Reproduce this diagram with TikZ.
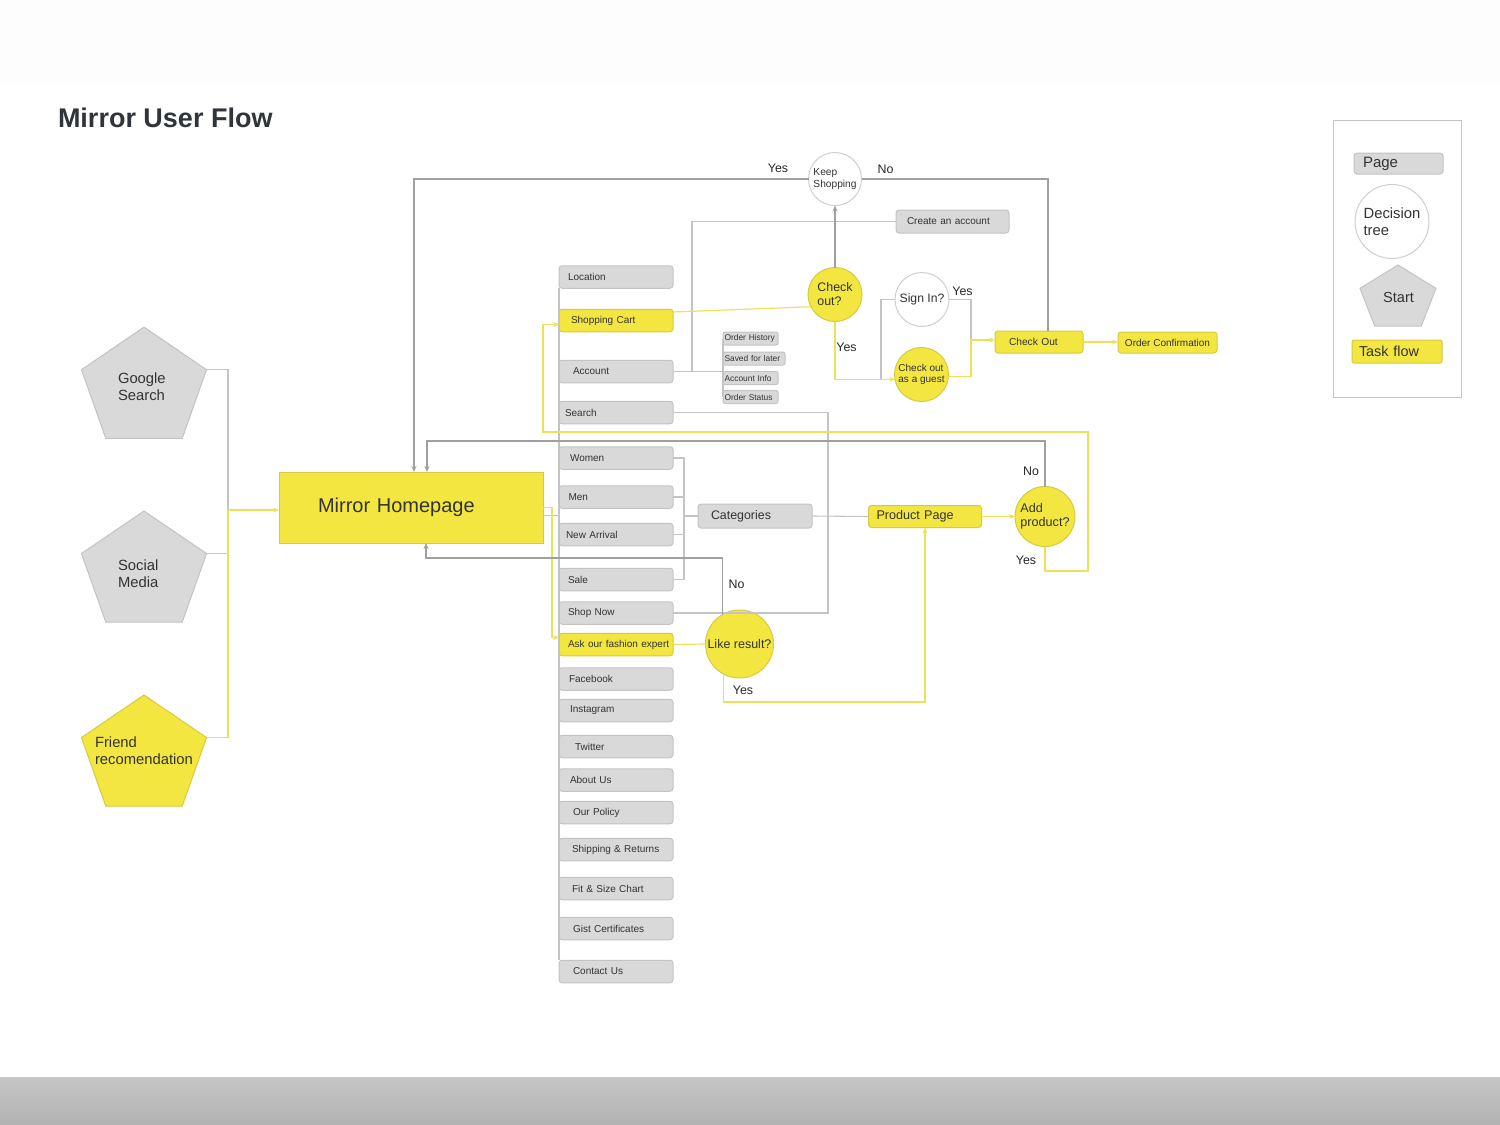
\documentclass[tikz,border=0pt]{standalone}
\usepackage{fontspec}
\setmainfont{Liberation Sans}
\usetikzlibrary{calc,arrows.meta}
\definecolor{yfill}{HTML}{F3E641}
\definecolor{ydraw}{HTML}{D6CA3E}
\definecolor{gfill}{HTML}{D9D9D9}
\definecolor{gdraw}{HTML}{C3C3C3}
\definecolor{lineG}{HTML}{A0A0A0}
\definecolor{lineL}{HTML}{C4C4C4}
\definecolor{lineY}{HTML}{EEE15A}
\definecolor{txt}{HTML}{333333}
\definecolor{cdraw}{HTML}{CFCFCF}
\definecolor{titlec}{HTML}{2F353A}
\definecolor{topband}{HTML}{FDFDFD}
\definecolor{bandA}{HTML}{C6C6C6}
\definecolor{bandB}{HTML}{B2B2B2}
\tikzset{
  every node/.style={text=txt, inner sep=0pt, outer sep=0pt},
  box/.style={draw=gdraw, fill=gfill, line width=0.5pt, rounded corners=1.5pt},
  boxY/.style={draw=ydraw, fill=yfill, line width=0.5pt, rounded corners=1.5pt},
  menu/.style={box, minimum height=11.25pt, text width=53pt, inner xsep=2pt, inner ysep=0pt, align=left, font=\fontsize{5}{6}\selectfont},
  menuY/.style={menu, boxY},
  subbox/.style={box, rounded corners=1pt, minimum height=6.5pt, text width=26pt, inner xsep=0.75pt, align=left, font=\fontsize{4.2}{5}\selectfont},
  dec/.style={circle, draw=cdraw, fill=white, line width=0.5pt, align=left},
  decY/.style={circle, draw=ydraw, fill=yfill, line width=0.5pt, align=left},
  lab/.style={font=\fontsize{6.2}{7}\selectfont, text=black!85},
  pentG/.style={draw=gdraw, fill=gfill, line width=0.5pt},
  pentY/.style={draw=ydraw, fill=yfill, line width=0.5pt},
  penttext/.style={anchor=west, align=left, font=\fontsize{7.4}{8.5}\selectfont},
  gl/.style={draw=lineG, line width=0.6pt},
  ll/.style={draw=lineL, line width=0.55pt},
  yl/.style={draw=lineY, line width=0.6pt},
  arr/.style={-{Stealth[length=3pt,width=2.5pt]}},
}
\newcommand\pent[6]{%
  \coordinate (#1) at (#2,#3);
  \draw[#6] ($(#1)+(0,-#5)$) -- ($(#1)+({-#4},{-0.234*#5})$) -- ($(#1)+({-0.612*#4},#5)$) -- ($(#1)+({0.612*#4},#5)$) -- ($(#1)+(#4,{-0.234*#5})$) -- cycle;
  \coordinate (#1-r) at ($(#1)+(#4,{-0.234*#5})$);
}
\newcommand\mitem[5][menu]{\node[#1] (#2) at (616,#3) {\hspace*{#4pt}\mbox{#5}};}
\begin{document}
\begin{tikzpicture}[x=0.5pt,y=-0.5pt]
\useasboundingbox (0,0) rectangle (1500,1125);
\fill[topband] (0,0) rectangle (1500,83);
\fill[top color=bandA,bottom color=bandB] (0,1077) rectangle (1500,1125);

% title
\node[anchor=west, font=\fontsize{13.5}{16}\selectfont\bfseries, text=titlec] (title) at (58,118) {Mirror User Flow};

% legend
\node[draw=lineL, line width=0.5pt, minimum width=64pt, minimum height=138.5pt] (legend) at (1397,258.5) {};
\node[box, minimum height=10.5pt, text width=35.5pt, inner xsep=4.5pt, align=left, font=\fontsize{7.5}{9}\selectfont] (lpage) at (1398.5,163.5) {Page};
\node[dec, minimum size=37pt, font=\fontsize{7.4}{8.5}\selectfont] (ldec) at (1392,221.5) {Decision\\tree};
\pent{lstart}{1398}{295.5}{38}{30.5}{pentG}
\node[font=\fontsize{7.3}{8.5}\selectfont] (lstart-t) at (1398.5,297.5) {Start};
\node[boxY, rounded corners=1pt, minimum height=11.5pt, text width=38pt, inner xsep=3.5pt, align=left, font=\fontsize{7.2}{8.5}\selectfont] (ltask) at (1397,351.5) {Task flow};

% start pentagons
\pent{google}{144}{382.7}{62.5}{55.6}{pentG}
\node[penttext] (google-t) at (118,386.5) {Google\\Search};
\pent{social}{144}{566.5}{62.5}{55.5}{pentG}
\node[penttext] (social-t) at (118,574) {Social\\Media};
\pent{friend}{144}{750.5}{62.5}{55.5}{pentY}
\node[penttext] (friend-t) at (95,751) {Friend\\recomendation};

% homepage
\node[boxY, rounded corners=0pt, minimum height=35.5pt, text width=93pt, inner xsep=19.5pt, align=left, font=\fontsize{10}{12}\selectfont] (home) at (411,507.5) {Mirror Homepage};

% menu column
\mitem{loc}{277}{2.5}{Location}
\mitem[menuY]{cart}{320.5}{4}{Shopping Cart}
\mitem{acct}{371.5}{5}{Account}
\mitem{search}{412.5}{1}{Search}
\mitem{women}{458}{3.5}{Women}
\mitem{men}{497}{2.75}{Men}
\mitem{newarr}{534.5}{1.5}{New Arrival}
\mitem{sale}{579.5}{2.5}{Sale}
\mitem{shopnow}{613}{2.5}{Shop Now}
\mitem[menuY]{ask}{644.5}{2.5}{Ask our fashion expert}
\mitem{fb}{679}{3}{Facebook}
\mitem{insta}{710.5}{3.5}{Instagram}
\mitem{tw}{746.5}{6}{Twitter}
\mitem{about}{780}{3.5}{About Us}
\mitem{policy}{812.5}{5}{Our Policy}
\mitem{ship}{849.5}{4.5}{Shipping \& Returns}
\mitem{fit}{888.5}{4.5}{Fit \& Size Chart}
\mitem{gift}{928.5}{5}{Gist Certificates}
\mitem{contact}{971.5}{5}{Contact Us}

% account sub items
\node[subbox] (oh) at (750.5,338.5) {Order History};
\node[subbox, text width=29.5pt] (sfl) at (754,358.5) {Saved for later};
\node[subbox] (ai) at (750.5,378) {Account Info};
\node[subbox] (os) at (750.5,397) {Order Status};

% other pages
\node[box, minimum height=11.5pt, text width=45.5pt, inner xsep=5.5pt, align=left, font=\fontsize{5}{6}\selectfont] (cra) at (952.5,221.5) {Create an account};
\node[box, minimum height=12pt, text width=44pt, inner xsep=6.5pt, align=left, font=\fontsize{6.2}{7.5}\selectfont] (cat) at (755,516) {Categories};
\node[boxY, minimum height=11pt, text width=48.5pt, inner xsep=4pt, align=left, font=\fontsize{6.3}{7.5}\selectfont] (prod) at (925,516.5) {Product Page};
\node[boxY, minimum height=11pt, text width=30pt, inner xsep=7pt, align=left, font=\fontsize{5.1}{6}\selectfont] (co) at (1039,342) {Check Out};
\node[boxY, minimum height=10.5pt, minimum width=49.5pt, font=\fontsize{5}{6}\selectfont] (oc) at (1167.5,342.5) {Order Confirmation};

% decisions
\node[dec, minimum size=26.5pt, font=\fontsize{5.1}{6}\selectfont] (ks) at (835,179) {Keep\\Shopping};
\node[decY, minimum size=27pt, font=\fontsize{6.2}{7}\selectfont] (chk) at (835,294.5) {Check\\out?};
\node[dec, minimum size=27pt, font=\fontsize{6.1}{7}\selectfont] (signin) at (922,299.5) {Sign In?};
\node[decY, minimum size=27pt, font=\fontsize{5}{5.5}\selectfont] (guest) at (921.5,374.5) {Check out\\as a guest};
\node[decY, minimum size=30pt, font=\fontsize{6.3}{6.8}\selectfont] (add) at (1045,516.5) {Add\\product?};
\node[decY, minimum size=34pt, font=\fontsize{6.25}{7}\selectfont] (like) at (739.5,644) {Like result?};

% labels
\node[lab] (y1) at (778,168.5) {Yes};
\node[lab] (n1) at (885.5,169.5) {No};
\node[lab] (y2) at (846.5,347) {Yes};
\node[lab] (y3) at (962.5,291.5) {Yes};
\node[lab] (n2) at (1031,471.5) {No};
\node[lab] (y4) at (1026,560.5) {Yes};
\node[lab] (n3) at (736.5,584) {No};
\node[lab] (y5) at (743,690) {Yes};

% helper coordinates
\coordinate (jn) at (228,510);
\coordinate (nb) at (0,441);
\coordinate (nl) at (0,558);
\coordinate (ya) at (1088,571);
\coordinate (yb) at (1088,432);
\coordinate (yc) at (543,432);
\coordinate (hy) at (552,0);
\coordinate (hs) at ([yshift=-4pt]home.east);
\coordinate (vx) at (828,0);
\coordinate (bx) at (684,0);
\coordinate (cx) at (692,0);
\coordinate (gj) at (881,379);
\coordinate (cj) at (971,340);
\coordinate (ly) at (925,702);

% entry connectors
\draw[ll] (google-r) -| (jn);
\draw[ll] (social-r) -| (jn);
\draw[yl] (friend-r) -| (jn);
\draw[yl,arr] (jn) -- (jn -| home.west);

% homepage to column
\draw[ll] (loc.south west) -- (contact.north west);
\draw[ll] (hs) -- (hs -| loc.west);
\draw[yl,arr] (home.east) -- (home.east -| hy) |- ([yshift=3.5pt]ask.west);

% account
\draw[ll] (acct.east) -- (acct.east -| oh.west);
\draw[ll] (oh.west) -- (os.west);
\draw[ll] (cra.west) -| (cx |- acct.east);

% categories
\draw[ll] (women.east) -| (bx |- sale.east) -- (sale.east);
\draw[ll] (men.east) -- (men.east -| bx);
\draw[ll] (newarr.east) -- (newarr.east -| bx);
\draw[ll] (bx |- cat.west) -- (cat.west);
\draw[ll] (cat.east) -- (prod.west);
\draw[ll] (search.east) -| (vx |- shopnow.east) -- (shopnow.east);

% product / add
\draw[yl,arr] (prod.east) -- (add.west);
\draw[gl,arr] (add.north) -- (add.north |- nb) -| ([xshift=8pt]home.north);
\draw[yl,arr] (add.south) -- (add.south |- ya) -- (ya) -- (yb) -- (yc) |- ([yshift=-2pt]cart.west);

% fashion expert
\draw[yl] (ask.east) -- (like.west);
\draw[gl,arr] (like.120) -- (like.120 |- nl) -| ([xshift=7.5pt]home.south);
\draw[yl,arr] (like.242) |- (ly) -- (prod.south);

% check out flow
\draw[yl] ([yshift=4.25pt]cart.east) -- (chk.207);
\draw[gl,arr] (chk.north) -- (ks.south);
\draw[gl,arr] (ks.west) -| ([xshift=1.5pt]home.north);
\draw[gl] (ks.east) -| ([xshift=4.5pt]co.north);
\draw[yl,arr] (chk.south) |- (guest.190);
\draw[ll] (gj) |- (signin.west);
\draw[ll] (signin.east) -| (cj);
\draw[yl] (guest.355) -| (cj);
\draw[yl,arr] (cj) -- (co.west |- cj);
\draw[yl,arr] (co.east) -- (oc.west |- co.east);
\end{tikzpicture}
\end{document}
